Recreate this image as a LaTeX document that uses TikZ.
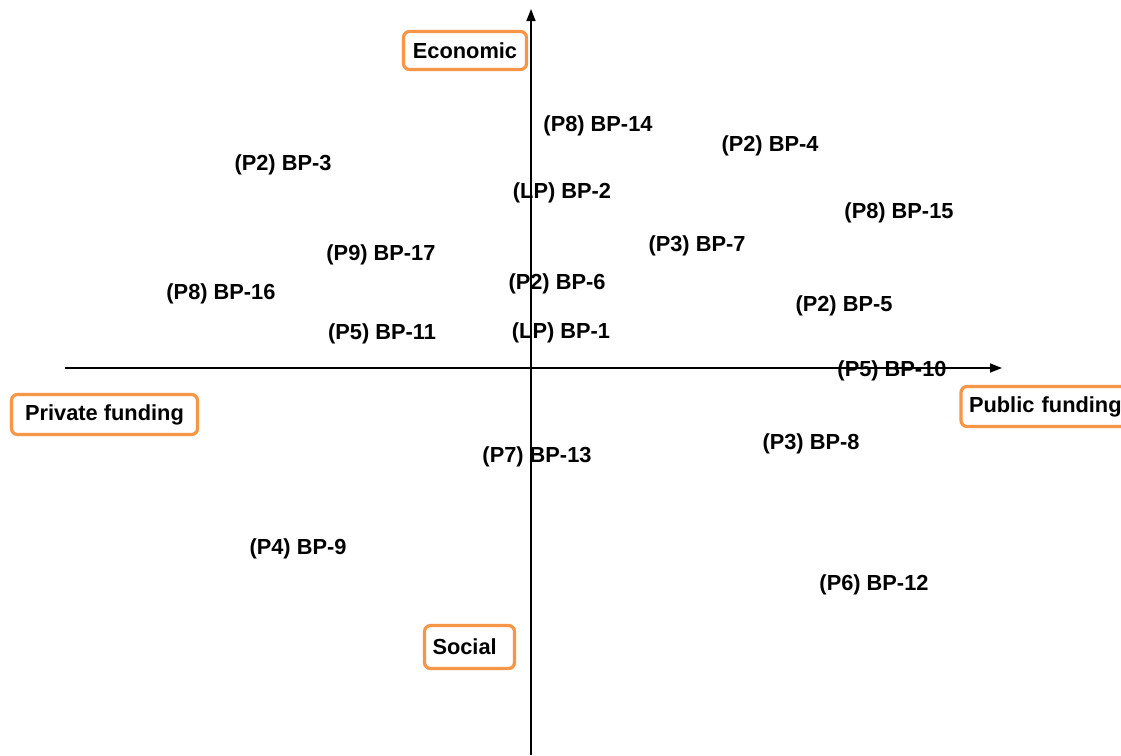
\documentclass[tikz,border=0pt]{standalone}
\usepackage{fontspec}
\setmainfont{Liberation Sans}
\usetikzlibrary{arrows.meta}
\definecolor{boxorange}{HTML}{F79646}
\begin{document}
\begin{tikzpicture}[x=1pt,y=-1pt,
  lbl/.style={font=\fontsize{21.8}{26}\selectfont\bfseries, inner sep=0pt, anchor=center, yshift=-1.5pt},
  axisbox/.style={draw=boxorange, line width=3.2pt, rounded corners=6pt, fill=white,
    font=\fontsize{21.8}{26}\selectfont\bfseries, inner sep=0pt, align=center},
  axisline/.style={line width=1.5pt, -{Triangle[length=12pt,width=9pt]}}
]
\clip (0,0) rectangle (1121,755);
\fill[white] (0,0) rectangle (1121,755);
% axes
\coordinate (vbot) at (531,755);
\coordinate (vtop) at (531,9);
\coordinate (hleft) at (65,368);
\coordinate (hright) at (1002,368);
\draw[axisline] (vbot) -- (vtop);
\draw[axisline] (hleft) -- (hright);
% axis boxes
\node[axisbox, minimum width=123pt, minimum height=38pt] (econ) at (465,50.5) {Economic};
\node[axisbox, minimum width=186pt, minimum height=40pt] (priv) at (104.5,414.5) {Private funding};
\node[axisbox, minimum width=176pt, minimum height=40pt, text width=160pt, align=left] (pub) at (1049,406.5) {Public funding};
\node[axisbox, minimum width=90pt, minimum height=43pt, text width=74pt, align=left] (soc) at (469.5,647) {Social};
% labels
\node[lbl] (bp14) at (598,124) {(P8) BP-14};
\node[lbl] (bp4) at (770,144) {(P2) BP-4};
\node[lbl] (bp3) at (283,163) {(P2) BP-3};
\node[lbl] (bp2) at (562,191) {(LP) BP-2};
\node[lbl] (bp15) at (899,211) {(P8) BP-15};
\node[lbl] (bp7) at (697,244) {(P3) BP-7};
\node[lbl] (bp17) at (381,253) {(P9) BP-17};
\node[lbl] (bp6) at (557,282) {(P2) BP-6};
\node[lbl] (bp16) at (221,292) {(P8) BP-16};
\node[lbl] (bp5) at (844,304) {(P2) BP-5};
\node[lbl] (bp11) at (382,332) {(P5) BP-11};
\node[lbl] (bp1) at (561,331) {(LP) BP-1};
\node[lbl] (bp10) at (892,369) {(P5) BP-10};
\node[lbl] (bp8) at (811,442) {(P3) BP-8};
\node[lbl] (bp13) at (537,455) {(P7) BP-13};
\node[lbl] (bp9) at (298,547) {(P4) BP-9};
\node[lbl] (bp12) at (874,583) {(P6) BP-12};
\end{tikzpicture}
\end{document}
